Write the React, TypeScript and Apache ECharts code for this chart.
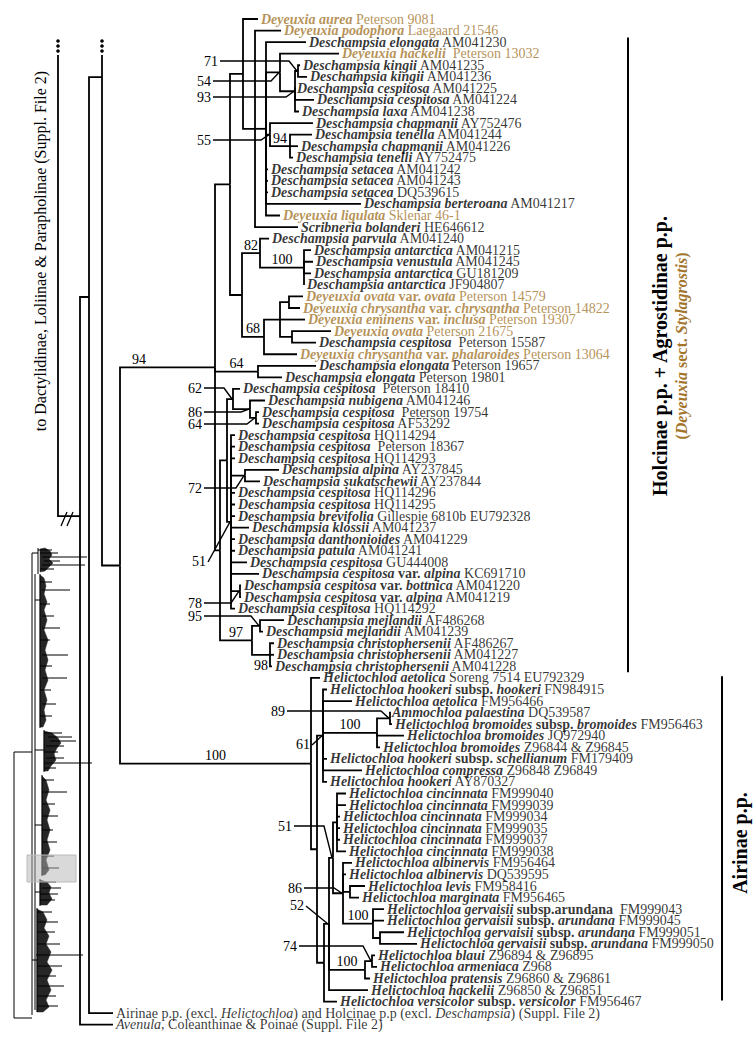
import React, { useEffect, useRef } from "react";
import * as echarts from "echarts";

const FONT = '"Liberation Serif", "Times New Roman", serif';
const BROWN = "#a3752b";
const ROW_Y0 = 19;
const ROW_H = 11.56;

// leaf labels: *bold italic*, ^bold^, _italic_, plain
const leafNames: string[] = [
  "*Deyeuxia aurea* Peterson 9081",
  "*Deyeuxia podophora* Laegaard 21546",
  "*Deschampsia elongata* AM041230",
  "*Deyeuxia hackelii*  Peterson 13032",
  "*Deschampsia kingii* AM041235",
  "*Deschampsia kingii* AM041236",
  "*Deschampsia cespitosa* AM041225",
  "*Deschampsia cespitosa* AM041224",
  "*Deschampsia laxa* AM041238",
  "*Deschampsia chapmanii* AY752476",
  "*Deschampsia tenella* AM041244",
  "*Deschampsia chapmanii* AM041226",
  "*Deschampsia tenelli* AY752475",
  "*Deschampsia setacea* AM041242",
  "*Deschampsia setacea* AM041243",
  "*Deschampsia setacea* DQ539615",
  "*Deschampsia berteroana* AM041217",
  "*Deyeuxia ligulata* Sklenar 46-1",
  "*Scribneria bolanderi* HE646612",
  "*Deschampsia parvula* AM041240",
  "*Deschampsia antarctica* AM041215",
  "*Deschampsia venustula* AM041245",
  "*Deschampsia antarctica* GU181209",
  "*Deschampsia antarctica* JF904807",
  "*Deyeuxia ovata* ^var.^ *ovata* Peterson 14579",
  "*Deyeuxia chrysantha* ^var.^ *chrysantha* Peterson 14822",
  "*Deyeuxia eminens* ^var.^ *inclusa* Peterson 19307",
  "*Deyeuxia ovata* Peterson 21675",
  "*Deschampsia cespitosa*  Peterson 15587",
  "*Deyeuxia chrysantha* ^var.^ *phalaroides* Peterson 13064",
  "*Deschampsia elongata* Peterson 19657",
  "*Deschampsia elongata* Peterson 19801",
  "*Deschampsia cespitosa*  Peterson 18410",
  "*Deschampsia nubigena* AM041246",
  "*Deschampsia cespitosa*  Peterson 19754",
  "*Deschampsia cespitosa* AF53292",
  "*Deschampsia cespitosa* HQ114294",
  "*Deschampsia cespitosa*  Peterson 18367",
  "*Deschampsia cespitosa* HQ114293",
  "*Deschampsia alpina* AY237845",
  "*Deschampsia sukatschewii* AY237844",
  "*Deschampsia cespitosa* HQ114296",
  "*Deschampsia cespitosa* HQ114295",
  "*Deschampsia brevifolia* Gillespie 6810b EU792328",
  "*Deschampsia klossii* AM041237",
  "*Deschampsia danthonioides* AM041229",
  "*Deschampsia patula* AM041241",
  "*Deschampsia cespitosa* GU444008",
  "*Deschampsia cespitosa* ^var.^ *alpina* KC691710",
  "*Deschampsia cespitosa* ^var.^ *bottnica* AM041220",
  "*Deschampsia cespitosa* ^var.^ *alpina* AM041219",
  "*Deschampsia cespitosa* HQ114292",
  "*Deschampsia mejlandii* AF486268",
  "*Deschampsia mejlandii* AM041239",
  "*Deschampsia christophersenii* AF486267",
  "*Deschampsia christophersenii* AM041227",
  "*Deschampsia christophersenii* AM041228",
  "*Helictochloa aetolica* Soreng 7514 EU792329",
  "*Helictochloa hookeri* ^subsp.^ *hookeri* FN984915",
  "*Helictochloa aetolica* FM956466",
  "*Ammochloa palaestina* DQ539587",
  "*Helictochloa bromoides* ^subsp.^ *bromoides* FM956463",
  "*Helictochloa bromoides* JQ972940",
  "*Helictochloa bromoides* Z96844 & Z96845",
  "*Helictochloa hookeri* ^subsp.^ *schellianum* FM179409",
  "*Helictochloa compressa* Z96848 Z96849",
  "*Helictochloa hookeri* AY870327",
  "*Helictochloa cincinnata* FM999040",
  "*Helictochloa cincinnata* FM999039",
  "*Helictochloa cincinnata* FM999034",
  "*Helictochloa cincinnata* FM999035",
  "*Helictochloa cincinnata* FM999037",
  "*Helictochloa cincinnata* FM999038",
  "*Helictochloa albinervis* FM956464",
  "*Helictochloa albinervis* DQ539595",
  "*Helictochloa levis* FM958416",
  "*Helictochloa marginata* FM956465",
  "*Helictochloa gervaisii* ^subsp.arundana^  FM999043",
  "*Helictochloa gervaisii* ^subsp.^ *arundana* FM999045",
  "*Helictochloa gervaisii* ^subsp.^ *arundana* FM999051",
  "*Helictochloa gervaisii* ^subsp.^ *arundana* FM999050",
  "*Helictochloa blaui* Z96894 & Z96895",
  "*Helictochloa armeniaca* Z968",
  "*Helictochloa pratensis* Z96860 & Z96861",
  "*Helictochloa hackelii* Z96850 & Z96851",
  "*Helictochloa versicolor* ^subsp.^ *versicolor* FM956467",
  "Airinae p.p. (excl. _Helictochloa_) and Holcinae p.p (excl. _Deschampsia_) (Suppl. File 2)",
  "_Avenula,_ Coleanthinae & Poinae (Suppl. File 2)",
];

// tip depth of each leaf (branch-length axis units)
const leafDepth: number[] = [
  258, 281, 306, 339, 300, 307, 294, 314, 299, 313,
  312, 298, 293, 268, 268, 268, 361, 280, 298, 269,
  311, 313, 311, 304, 303, 300, 305, 331, 316, 297,
  316, 282, 240, 265, 259, 259, 235, 235, 235, 279,
  260, 235, 235, 235, 249, 235, 235, 247, 259, 241,
  241, 235, 284, 263, 274, 274, 272, 320, 327, 352,
  389, 392, 404, 380, 327, 362, 327, 346, 346, 340,
  340, 340, 346, 352, 346, 365, 359, 384, 384, 404,
  417, 375, 377, 370, 368, 337, 113, 113,
];

// internal nodes: [id, depth, children]
const internalNodes: [string, number, (string | number)[]][] = [
  ["UP1", 58, ["ROOT"]],
  ["ROOT", 80, ["BIG", 87]],
  ["BIG", 89, ["BB", 86]],
  ["BB", 102, ["UP2", "HA"]],
  ["UP2", 102, []],
  ["HA", 120, ["HOLC", "HROOT"]],
  ["HOLC", 215, ["TOP", "ELONG", "LOW"]],
  ["TOP", 230, ["A", "ANTOV"]],
  ["A", 243, [0, "B"]],
  ["B", 255, [1, "C", 18]],
  ["C", 266, [2, "E", "CH", 13, 14, 15, 16, 17]],
  ["E", 280, [3, "K"]],
  ["K", 295, ["KK", 6, 7, 8]],
  ["KK", 298, [4, 5]],
  ["CH", 270, [9, "TN"]],
  ["TN", 290, [10, 11, 12]],
  ["ANTOV", 242, ["ANT", "OV"]],
  ["ANT", 260, [19, "ANT2"]],
  ["ANT2", 304, [20, 21, 22, 23]],
  ["OV", 264, ["OV2", 29]],
  ["OV2", 280, ["OV3", 26, "OV4"]],
  ["OV3", 289, [24, 25]],
  ["OV4", 292, [27, 28]],
  ["ELONG", 258, [30, 31]],
  ["LOW", 220, ["CESP", "MC"]],
  ["CESP", 227, ["PETE", "C51"]],
  ["PETE", 233, [32, "NUB"]],
  ["NUB", 250, [33, "NUB2"]],
  ["NUB2", 256, [34, 35]],
  ["C51", 231, [36, 37, 38, "ALP", 41, 42, 43, 44, 45, 46, 47, 48, "BOT", 51]],
  ["ALP", 245, [39, 40]],
  ["BOT", 240, [49, 50]],
  ["MC", 252, ["MEJ", "CHR"]],
  ["MEJ", 260, [52, 53]],
  ["CHR", 270, [54, 55, 56]],
  ["HROOT", 311, [57, "HB"]],
  ["HB", 317, ["H61", "H52"]],
  ["H61", 323, [58, 59, "BROM", 64, 65, 66]],
  ["BROM", 377, ["AMM", 62, 63]],
  ["AMM", 390, [60, 61]],
  ["H52", 324, ["H74", 85]],
  ["H74", 329, ["CINALB", "BLA", 84]],
  ["CINALB", 333, ["CIN", "ALB"]],
  ["CIN", 337, [67, 68, 69, 70, 71, 72]],
  ["ALB", 343, [73, 74, "LM", "GER"]],
  ["LM", 350, [75, 76]],
  ["GER", 373, [77, 78, "GER2"]],
  ["GER2", 380, [79, 80]],
  ["BLA", 365, ["BLA2", 83]],
  ["BLA2", 372, [81, 82]],
];

// backbone nodes whose row is set by lineages continuing off the figure
const rowFix: Record<string, number> = { UP1: 3.11, UP2: 3.11, ROOT: 43.0, BIG: 24.05, BB: 5.02 };

// bootstrap support values
const supportNode: string[] = [
  "KK", "E", "K", "CH", "TN", "ANT", "ANT2", "OV", "HOLC", "ELONG",
  "PETE", "NUB", "NUB2", "ALP", "C51", "BOT", "MEJ", "MC", "CHR",
  "AMM", "BROM", "H61", "HROOT", "CINALB", "ALB", "H74", "GER", "BLA2", "BLA",
];
const supportValue: number[] = [
  71, 54, 93, 55, 94, 82, 100, 68, 94, 64,
  62, 86, 64, 72, 51, 78, 95, 97, 98,
  89, 100, 61, 100, 51, 86, 52, 100, 74, 100,
];

// placement of support labels that use leader lines: [labelRightX, labelY, diagonalOnly]
const leaderPlace: Record<string, [number, number, boolean]> = {
  KK: [218, 61, false], E: [211, 81, false], K: [211, 97, false], CH: [211, 140, false],
  PETE: [202, 388, false], NUB: [202, 412, false], NUB2: [202, 424, false], ALP: [202, 488, false],
  C51: [206, 561, true], BOT: [202, 603, false], MEJ: [202, 616, false],
  AMM: [285, 711, false], H61: [310, 744, true], CINALB: [292, 826, false],
  ALB: [302, 888, false], H74: [304, 905, true], BLA2: [297, 946, false],
};
const belowLabel: Record<string, boolean> = { CHR: true };
const branchLabelX: Record<string, number> = { HOLC: 139 };

// miniature of the whole tree (overview inset)
const thumbStems: number[][] = [
  [14, 752, 1018], [32, 553, 1015], [35, 574, 1010], [38, 548, 574], [40, 574, 728], [44, 730, 772],
  [42, 775, 876], [40, 879, 906], [37, 908, 1012],
];
const thumbTicks: number[][] = [
  [752, 14, 32], [1018, 14, 32], [553, 32, 38], [750, 35, 44], [600, 35, 40], [825, 35, 42], [892, 35, 40], [960, 32, 37],
  [550, 38, 52], [553, 40, 58], [557, 42, 87], [561, 44, 60], [565, 42, 85], [569, 40, 54],
  [582, 40, 52], [590, 42, 70], [604, 40, 50], [616, 42, 54], [628, 42, 60], [640, 40, 50], [655, 42, 68], [666, 40, 52],
  [678, 42, 67], [690, 40, 51], [704, 42, 56], [716, 40, 52],
  [733, 44, 62], [737, 48, 72], [741, 50, 76], [746, 46, 64], [752, 44, 58], [758, 46, 64], [763, 44, 92], [768, 44, 56],
  [780, 42, 54], [792, 42, 67], [804, 42, 55], [816, 42, 58], [830, 42, 53], [842, 42, 57], [856, 42, 54], [868, 42, 59],
  [882, 40, 56], [888, 42, 61], [894, 40, 58], [900, 40, 55],
  [912, 37, 52], [922, 37, 58], [932, 37, 55], [944, 37, 60], [955, 36, 83], [966, 37, 62], [976, 37, 56], [986, 37, 64],
  [996, 37, 56], [1006, 37, 58],
];
const thumbBlobs: number[][][] = [
  [[40, 549], [45, 548], [50, 551], [52, 555], [49, 559], [53, 563], [49, 567], [45, 571], [40, 572]],
  [[40, 575], [44, 578], [46, 586], [44, 594], [47, 602], [44, 610], [47, 620], [44, 630], [48, 640], [45, 650], [48, 660], [45, 670], [48, 680], [44, 690], [47, 700], [44, 710], [46, 720], [43, 727], [40, 727]],
  [[44, 731], [52, 733], [58, 738], [61, 743], [57, 748], [54, 754], [56, 760], [51, 766], [48, 771], [44, 771]],
  [[42, 776], [46, 780], [49, 790], [46, 800], [50, 810], [47, 820], [50, 830], [47, 840], [50, 850], [46, 860], [49, 870], [45, 875], [42, 875]],
  [[40, 880], [47, 882], [51, 887], [49, 893], [52, 899], [47, 905], [40, 905]],
  [[37, 909], [43, 912], [47, 920], [44, 928], [49, 936], [46, 944], [51, 952], [47, 962], [52, 970], [47, 980], [51, 990], [46, 1000], [49, 1007], [43, 1012], [37, 1012]],
];

function buildTree() {
  const depth: Record<string, number> = {};
  const kids: Record<string, (string | number)[]> = {};
  internalNodes.forEach(([id, d, ch]) => { depth[id] = d; kids[id] = ch; });
  const rowOf: Record<string, number> = {};
  const getRow = (n: string | number): number => {
    if (typeof n === "number") return n;
    if (rowOf[n] !== undefined) return rowOf[n];
    let r: number;
    if (rowFix[n] !== undefined) r = rowFix[n];
    else {
      const rs = kids[n].map(getRow);
      r = (Math.min(...rs) + Math.max(...rs)) / 2;
    }
    rowOf[n] = r;
    return r;
  };
  const dep = (n: string | number) => (typeof n === "number" ? leafDepth[n] : depth[n]);
  const edges: number[][] = [];
  const parentDepth: Record<string, number> = {};
  internalNodes.forEach(([id, d, ch]) => {
    ch.forEach((c) => {
      edges.push([d, getRow(id), dep(c), getRow(c)]);
      if (typeof c === "string") parentDepth[c] = d;
    });
  });
  return { depth, rowOf, getRow, edges, parentDepth };
}

function toRich(src: string, brown: boolean, big: boolean): string {
  const re = /\*([^*]+)\*|\^([^^]+)\^|_([^_]+)_|([^*^_]+)/g;
  let out = "";
  let m: RegExpExecArray | null;
  const p = big ? "c" : brown ? "B" : "K";
  while ((m = re.exec(src))) {
    if (m[1]) out += `{${p}bi|${m[1]}}`;
    else if (m[2]) out += `{${p}b|${m[2]}}`;
    else if (m[3]) out += `{${p}i|${m[3]}}`;
    else out += `{${p}n|${m[4]}}`;
  }
  return out;
}

function richStyles() {
  const r: Record<string, any> = {};
  const mk = (prefix: string, color: string, size: number) => {
    const base = { fontFamily: FONT, fontSize: size, color, lineHeight: 11 };
    r[prefix + "bi"] = { ...base, fontStyle: "italic", fontWeight: "bold" };
    r[prefix + "b"] = { ...base, fontWeight: "bold" };
    r[prefix + "i"] = { ...base, fontStyle: "italic" };
    r[prefix + "n"] = { ...base };
  };
  mk("K", "#000", 14);
  mk("B", BROWN, 14);
  mk("c", "#000", 14);
  return r;
}

const y = (row: number) => ROW_Y0 + row * ROW_H;

function buildOption() {
  const t = buildTree();
  const labels = leafNames.map((s, i) => toRich(s, s.startsWith("*Deyeuxia"), i >= 86));
  const supports = supportNode.map((n, i) => [t.depth[n], t.getRow(n), t.parentDepth[n] ?? t.depth[n], supportValue[i], i]);
  const dotNodes = ["UP1", "UP2"].map((n) => [t.depth[n], t.getRow(n)]);
  const black = "#000";
  const thumb: any[] = [];
  thumbBlobs.forEach((pts) => thumb.push({ type: "polygon", shape: { points: pts }, style: { fill: "#262626", stroke: "#262626", lineWidth: 0.5 } }));
  thumbStems.forEach(([x, a, b]) => thumb.push({ type: "line", shape: { x1: x, y1: a, x2: x, y2: b }, style: { stroke: "#000", lineWidth: 1 } }));
  thumbTicks.forEach(([yy, a, b]) => thumb.push({ type: "line", shape: { x1: a, y1: yy, x2: b, y2: yy }, style: { stroke: "#000", lineWidth: 1 } }));

  return {
    animation: false,
    backgroundColor: "#fff",
    grid: { left: 0, right: 0, top: 0, bottom: 0 },
    xAxis: { type: "value", min: 0, max: 756, show: false },
    yAxis: { type: "value", min: -ROW_Y0 / ROW_H, max: (1048 - ROW_Y0) / ROW_H, inverse: true, show: false },
    series: [
      {
        type: "custom",
        name: "branches",
        clip: false,
        data: t.edges,
        renderItem: (_p: any, api: any) => {
          const a = api.coord([api.value(0), api.value(1)]);
          const b = api.coord([api.value(2), api.value(3)]);
          return {
            type: "polyline",
            shape: { points: [a, [a[0], b[1]], b] },
            style: { stroke: black, lineWidth: 1.8, fill: "none" },
          };
        },
      },
      {
        type: "custom",
        name: "offpage",
        clip: false,
        data: dotNodes,
        renderItem: (_p: any, api: any) => {
          const a = api.coord([api.value(0), api.value(1)]);
          return {
            type: "group",
            children: [4, 9, 14].map((d) => ({
              type: "circle",
              shape: { cx: a[0], cy: a[1] - d, r: 1.8 },
              style: { fill: black },
            })),
          };
        },
      },
      {
        type: "scatter",
        name: "leaves",
        symbolSize: 0,
        silent: true,
        data: leafDepth.map((d, i) => [d, i]),
        label: {
          show: true,
          position: "right",
          distance: 3,
          formatter: (p: any) => labels[p.dataIndex],
          rich: richStyles(),
        },
      },
      {
        type: "custom",
        name: "support",
        clip: false,
        data: supports,
        renderItem: (params: any, api: any) => {
          const i = params.dataIndex;
          const id = supportNode[i];
          const node = api.coord([api.value(0), api.value(1)]);
          const par = api.coord([api.value(2), api.value(1)]);
          const txt = String(supportValue[i]);
          const place = leaderPlace[id];
          const children: any[] = [];
          if (place) {
            const [lx, ly, diag] = place;
            const pts = diag
              ? [[lx + 2, ly + 1], [node[0] - 1, node[1]]]
              : [[lx + 2, ly], [node[0] - 9, ly], [node[0] - 1, node[1]]];
            children.push({ type: "polyline", shape: { points: pts }, style: { stroke: black, lineWidth: 1.4, fill: "none" } });
            children.push({
              type: "text",
              style: { x: lx, y: ly, text: txt, align: "right", verticalAlign: "middle", font: `14px ${FONT}`, fill: black },
            });
          } else {
            const mx = branchLabelX[id] ?? (node[0] + par[0]) / 2;
            const my = belowLabel[id] ? node[1] + 11 : node[1] - 8;
            children.push({
              type: "text",
              style: { x: mx, y: my, text: txt, align: "center", verticalAlign: "middle", font: `14px ${FONT}`, fill: black },
            });
          }
          return { type: "group", children };
        },
      },
    ],
    graphic: [
      { type: "line", shape: { x1: 628, y1: y(1.6), x2: 628, y2: y(56.5) }, style: { stroke: black, lineWidth: 2 } },
      { type: "line", shape: { x1: 722, y1: y(56.85), x2: 722, y2: y(84.9) }, style: { stroke: black, lineWidth: 2 } },
      {
        type: "text", x: 660, y: 356, rotation: Math.PI / 2,
        style: { text: "Holcinae p.p. + Agrostidinae p.p.", font: `bold 20px ${FONT}`, fill: black, align: "center", verticalAlign: "middle" },
      },
      {
        type: "text", x: 681, y: 346, rotation: Math.PI / 2,
        style: {
          text: "{n|(}{i|Deyeuxia}{n| sect. }{i|Stylagrostis}{n|)}",
          align: "center", verticalAlign: "middle",
          rich: {
            n: { font: `bold 16px ${FONT}`, fill: BROWN },
            i: { font: `italic bold 16px ${FONT}`, fill: BROWN },
          },
        },
      },
      {
        type: "text", x: 740, y: 843, rotation: Math.PI / 2,
        style: { text: "Airinae p.p.", font: `bold 20px ${FONT}`, fill: black, align: "center", verticalAlign: "middle" },
      },
      {
        type: "text", x: 40, y: 251, rotation: Math.PI / 2,
        style: { text: "to Dactylidinae, Loliinae & Parapholinae (Suppl. File 2)", font: `16px ${FONT}`, fill: black, align: "center", verticalAlign: "middle" },
      },
      { type: "line", shape: { x1: 61, y1: 526, x2: 67, y2: 512 }, style: { stroke: black, lineWidth: 1.3 } },
      { type: "line", shape: { x1: 67, y1: 526, x2: 73, y2: 512 }, style: { stroke: black, lineWidth: 1.3 } },
      { type: "group", children: thumb },
      { type: "rect", shape: { x: 27, y: 855, width: 49, height: 27 }, style: { fill: "rgba(180,180,180,0.5)", stroke: "#bbb" } },
    ],
  };
}

export default function App() {
  const ref = useRef<HTMLDivElement>(null);
  useEffect(() => {
    document.body.style.margin = "0";
    const chart = echarts.init(ref.current!, null, { renderer: "svg" });
    chart.setOption(buildOption() as any);
    return () => chart.dispose();
  }, []);
  return <div ref={ref} style={{ width: 756, height: 1048 }} />;
}
